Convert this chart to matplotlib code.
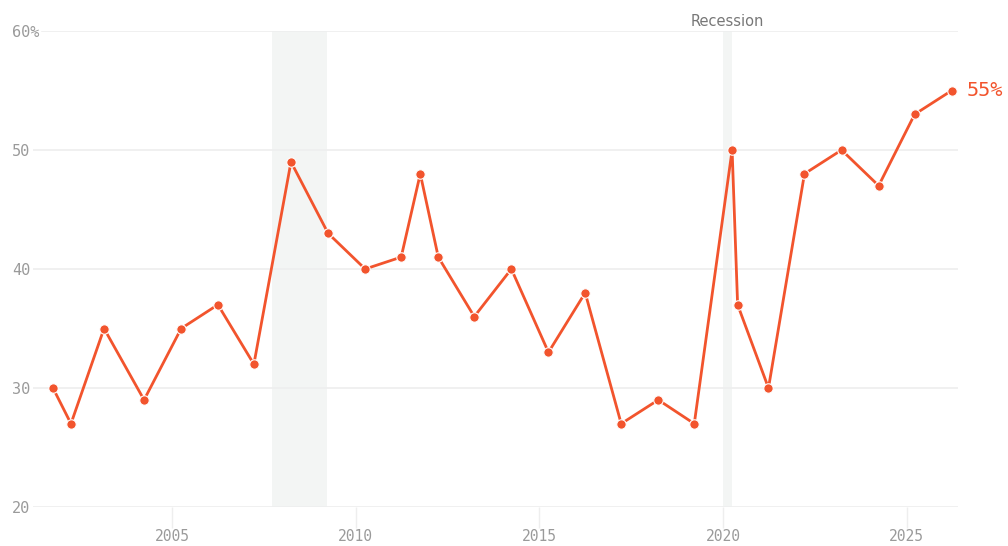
import matplotlib.pyplot as plt

# Share of respondents, by survey date (decimal years)
dates = [2001.76, 2002.25, 2003.15, 2004.24, 2005.25, 2006.25, 2007.23, 2008.24,
         2009.25, 2010.26, 2011.24, 2011.76, 2012.25, 2013.23, 2014.24, 2015.25,
         2016.25, 2017.23, 2018.24, 2019.22, 2020.25, 2020.40, 2021.24, 2022.22,
         2023.23, 2024.24, 2025.22, 2026.23]
values = [30, 27, 35, 29, 35, 37, 32, 49,
          43, 40, 41, 48, 41, 36, 40, 33,
          38, 27, 29, 27, 50, 37, 30, 48,
          50, 47, 53, 55]

# Recession periods (start, end)
recessions = [(2007.73, 2009.23), (2020.0, 2020.25)]

x_ticks = [2005, 2010, 2015, 2020, 2025]
y_ticks = [20, 30, 40, 50, 60]
y_labels = ['20', '30', '40', '50', '60%']

line_color = '#f2542d'
grey = '#9a9a9a'
mono = 'DejaVu Sans Mono'

fig = plt.figure(figsize=(10.08, 5.46), dpi=100)
ax = fig.add_axes([33 / 1008, 39 / 546, 925 / 1008, 476 / 546])

for start, end in recessions:
    ax.axvspan(start, end, color='#f3f5f4', zorder=0, lw=0)

for y in y_ticks:
    # the top gridline starts after the wider "60%" label
    ax.axhline(y, xmin=0.0097 if y == 60 else 0, color='#eeeeee', lw=1.2, zorder=1)

ax.plot(dates, values, color=line_color, lw=2.0, zorder=3,
        marker='o', markersize=6.8, markerfacecolor=line_color,
        markeredgecolor='white', markeredgewidth=0.8)

ax.text(dates[-1] + 0.4, values[-1], f'{values[-1]}%', color=line_color,
        fontsize=14.5, family=mono, va='center', ha='left')

r_start, r_end = recessions[1]
ax.text((r_start + r_end) / 2, 60.4, 'Recession', color='#777777',
        fontsize=10.5, ha='center', va='baseline', family='DejaVu Sans')

ax.set_xlim(2001.216, 2026.40)
ax.set_ylim(20, 60)
ax.set_xticks(x_ticks)
ax.set_yticks(y_ticks)
ax.set_yticklabels(y_labels)

for s in ax.spines.values():
    s.set_visible(False)

ax.tick_params(axis='x', length=15, width=1, color='#eeeeee', labelcolor=grey,
               labelsize=10.5, pad=1)
ax.tick_params(axis='y', length=0, labelcolor=grey, labelsize=11, pad=15)
for lab in ax.get_xticklabels() + ax.get_yticklabels():
    lab.set_family(mono)
for lab in ax.get_yticklabels():
    lab.set_horizontalalignment('left')

plt.savefig('out.png', dpi=100)
